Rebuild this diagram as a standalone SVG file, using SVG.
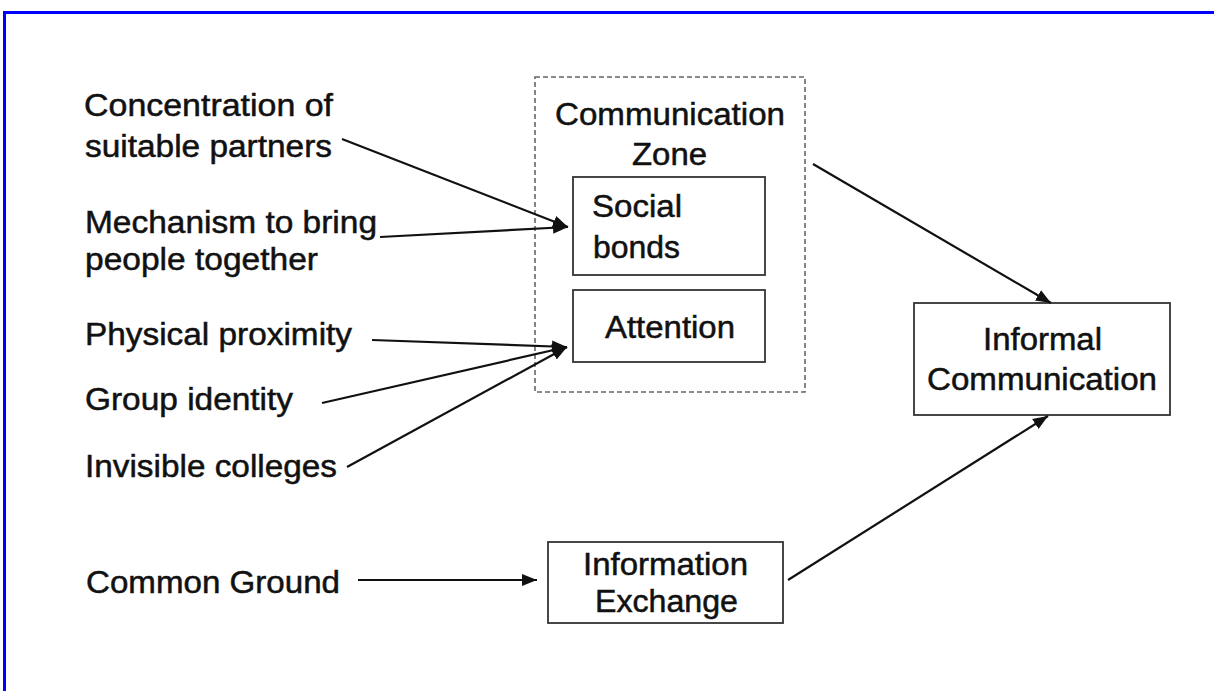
<svg xmlns="http://www.w3.org/2000/svg" width="1214" height="691" viewBox="0 0 1214 691">
<style>
  .t { font-family: "Liberation Sans", Arial, sans-serif; font-size: 31px; fill: #111; stroke: #111; stroke-width: 0.5; }
  .box { fill: #fff; stroke: #333; stroke-width: 1.8; }
  .zone { fill: none; stroke: #666; stroke-width: 1.6; stroke-dasharray: 5 3; }
  .conn { stroke: #111; stroke-width: 2.2; fill: none; marker-end: url(#arrow); }
</style>
<defs>
  <marker id="arrow" markerUnits="userSpaceOnUse" markerWidth="16" markerHeight="14" refX="15" refY="7" orient="auto">
    <path d="M0,1 L15,7 L0,13 z" fill="#111"/>
  </marker>
</defs>
<rect x="0" y="0" width="1214" height="691" fill="#fff"/>
<g id="frame">
  <path d="M3,12.5 H1214" stroke="#0000ff" stroke-width="3" fill="none"/>
  <path d="M4.5,11 V691" stroke="#0000ff" stroke-width="3" fill="none"/>
</g>

<g id="concentration">
  <text class="t" x="84" y="116" textLength="249" lengthAdjust="spacingAndGlyphs">Concentration of</text>
  <text class="t" x="85" y="157" textLength="247" lengthAdjust="spacingAndGlyphs">suitable partners</text>
</g>
<g id="mechanism">
  <text class="t" x="85" y="233" textLength="292" lengthAdjust="spacingAndGlyphs">Mechanism to bring</text>
  <text class="t" x="85" y="270" textLength="233" lengthAdjust="spacingAndGlyphs">people together</text>
</g>
<g id="physical">
  <text class="t" x="85" y="345" textLength="267" lengthAdjust="spacingAndGlyphs">Physical proximity</text>
</g>
<g id="group">
  <text class="t" x="85" y="410" textLength="208" lengthAdjust="spacingAndGlyphs">Group identity</text>
</g>
<g id="invisible">
  <text class="t" x="85" y="477" textLength="252" lengthAdjust="spacingAndGlyphs">Invisible colleges</text>
</g>
<g id="common-ground">
  <text class="t" x="86" y="593" textLength="254" lengthAdjust="spacingAndGlyphs">Common Ground</text>
</g>

<g id="communication-zone">
  <rect class="zone" x="535" y="77" width="270" height="315"/>
  <text class="t" x="555" y="125" textLength="230" lengthAdjust="spacingAndGlyphs">Communication</text>
  <text class="t" x="632" y="165" textLength="75" lengthAdjust="spacingAndGlyphs">Zone</text>
</g>
<g id="social-bonds">
  <rect class="box" x="573" y="177" width="192" height="98"/>
  <text class="t" x="592" y="217" textLength="90" lengthAdjust="spacingAndGlyphs">Social</text>
  <text class="t" x="593" y="258" textLength="87" lengthAdjust="spacingAndGlyphs">bonds</text>
</g>
<g id="attention">
  <rect class="box" x="573" y="290" width="192" height="72"/>
  <text class="t" x="605" y="338" textLength="130" lengthAdjust="spacingAndGlyphs">Attention</text>
</g>
<g id="informal-communication">
  <rect class="box" x="914" y="303" width="256" height="112"/>
  <text class="t" x="983" y="350" textLength="119" lengthAdjust="spacingAndGlyphs">Informal</text>
  <text class="t" x="927" y="390" textLength="230" lengthAdjust="spacingAndGlyphs">Communication</text>
</g>
<g id="information-exchange">
  <rect class="box" x="548" y="542" width="235" height="81"/>
  <text class="t" x="583" y="575" textLength="165" lengthAdjust="spacingAndGlyphs">Information</text>
  <text class="t" x="595" y="612" textLength="143" lengthAdjust="spacingAndGlyphs">Exchange</text>
</g>

<g id="connectors">
  <line class="conn" x1="342" y1="139" x2="568" y2="227"/>
  <line class="conn" x1="380" y1="237" x2="568" y2="227"/>
  <line class="conn" x1="372" y1="340" x2="567" y2="347"/>
  <line class="conn" x1="322" y1="403" x2="567" y2="347"/>
  <line class="conn" x1="347" y1="467" x2="567" y2="347"/>
  <line class="conn" x1="813" y1="164" x2="1051" y2="303"/>
  <line class="conn" x1="358" y1="580" x2="537" y2="580"/>
  <line class="conn" x1="788" y1="580" x2="1048" y2="416"/>
</g>
</svg>
